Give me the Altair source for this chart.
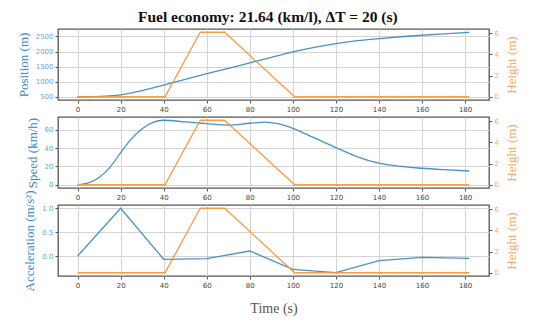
import altair as alt
import pandas as pd

# ---- data ----
pos_t = [0, 10, 20, 30, 40, 50, 60, 70, 80, 90, 100, 110, 120, 130, 140, 150, 160, 170, 182]
pos_v = [500, 515, 565, 700, 890, 1080, 1265, 1445, 1625, 1810, 1990, 2140, 2265, 2360, 2430, 2490, 2540, 2585, 2635]

spd_t = [0, 5, 10, 15, 20, 25, 30, 35, 40, 50, 60, 70, 80, 87, 93, 100, 110, 120, 130, 140, 150, 160, 170, 182]
spd_v = [0, 2, 8, 19, 35, 50, 61, 68, 70.3, 68.5, 66.5, 65, 67, 68.2, 66.5, 61.5, 51, 40.5, 30.5, 23.5, 20, 18, 16.5, 15]

acc_t = [0, 20, 40, 60, 80, 100, 120, 140, 160, 182]
acc_v = [0, 1.0, -0.068, -0.054, 0.105, -0.277, -0.345, -0.095, -0.03, -0.047]

h_t = [0, 40.6, 57, 68.3, 100.8, 182]
h_v = [0, 0, 6.1, 6.1, 0, 0]

x_ticks = [0, 20, 40, 60, 80, 100, 120, 140, 160, 180]

BLUE = "#3585c4"
BLUE_T = "#3b88cc"
BLUE_L = "#6aa3d6"
ORANGE = "#ff8f30"
ORANGE_T = "#f9a75e"
SERIF = "Liberation Serif"
SANS = "DejaVu Sans"

W, H = 431, 71

pos_df = pd.DataFrame({"t": pos_t, "v": pos_v})
spd_df = pd.DataFrame({"t": spd_t, "v": spd_v})
acc_df = pd.DataFrame({"t": acc_t, "v": acc_v})
h_df = pd.DataFrame({"t": h_t, "v": h_v})


def xenc(title=None):
    kw = dict(
        values=x_ticks, labelFont=SANS, labelFontSize=7, labelColor="#444",
        tickColor="#555", tickSize=3, labelPadding=2, domain=False,
        gridColor="#d4d4d4", gridWidth=1,
    )
    if title:
        kw.update(title=title, titleFont=SERIF, titleFontSize=14, titleFontWeight="normal",
                  titleColor="#555", titlePadding=13)
    else:
        kw.update(title=None)
    return alt.X("t:Q", scale=alt.Scale(domain=[-9.1, 191.1], nice=False, zero=False),
                 axis=alt.Axis(**kw))


def panel(df, ytitle, ydomain, yticks, fmt, xtitle=None, interp="linear"):
    left = alt.Chart(df).mark_line(color=BLUE, strokeWidth=1.3, opacity=0.9, interpolate=interp).encode(
        x=xenc(xtitle),
        y=alt.Y("v:Q", scale=alt.Scale(domain=ydomain, nice=False, zero=False),
                axis=alt.Axis(title=ytitle, values=yticks, format=fmt, orient="left",
                              labelFont=SANS, labelFontSize=7, labelColor=BLUE_L,
                              tickColor="#555", tickSize=3, labelPadding=2, domain=False,
                              gridColor="#d4d4d4", gridWidth=1,
                              titleFont=SERIF, titleFontSize=13, titleFontWeight="normal",
                              titleColor=BLUE_T, titlePadding=5)),
    )
    right = alt.Chart(h_df).mark_line(color=ORANGE, strokeWidth=1.3, opacity=0.9).encode(
        x=xenc(xtitle),
        y=alt.Y("v:Q", scale=alt.Scale(domain=[-0.305, 6.405], nice=False, zero=False),
                axis=alt.Axis(title="Height (m)", values=[0, 2, 4, 6], orient="right", grid=False,
                              labelFont=SANS, labelFontSize=7, labelColor=ORANGE_T,
                              tickColor="#555", tickSize=3, labelPadding=2, domain=False,
                              titleFont=SERIF, titleFontSize=13, titleFontWeight="normal",
                              titleColor=ORANGE_T, titlePadding=7, titleAngle=270,
                              titleBaseline="top")),
    )
    return alt.layer(left, right).resolve_scale(y="independent").properties(width=W, height=H)


p1 = panel(pos_df, "Position (m)", [393, 2747], [500, 1000, 1500, 2000, 2500], "d", interp="monotone")
p2 = panel(spd_df, "Speed (km/h)", [-3.515, 73.815], [0, 20, 40, 60], "d", interp="monotone")
p3 = panel(acc_df, "Acceleration (m/s²)", [-0.4175, 1.0675], [0.0, 0.5, 1.0], ".1f", xtitle="Time (s)")

chart = alt.vconcat(p1, p2, p3, spacing=17, bounds="flush").properties(
    title=alt.TitleParams("Fuel economy: 21.64 (km/l), ΔT = 20 (s)", font=SERIF, fontSize=15.5,
                          fontWeight="bold", color="#111", anchor="middle", offset=3),
    padding={"left": 8, "top": 1, "right": 5, "bottom": 2},
).configure_view(stroke="#555", strokeWidth=1.3)

chart.save("out.html", embed_options={"renderer": "svg", "actions": False})
